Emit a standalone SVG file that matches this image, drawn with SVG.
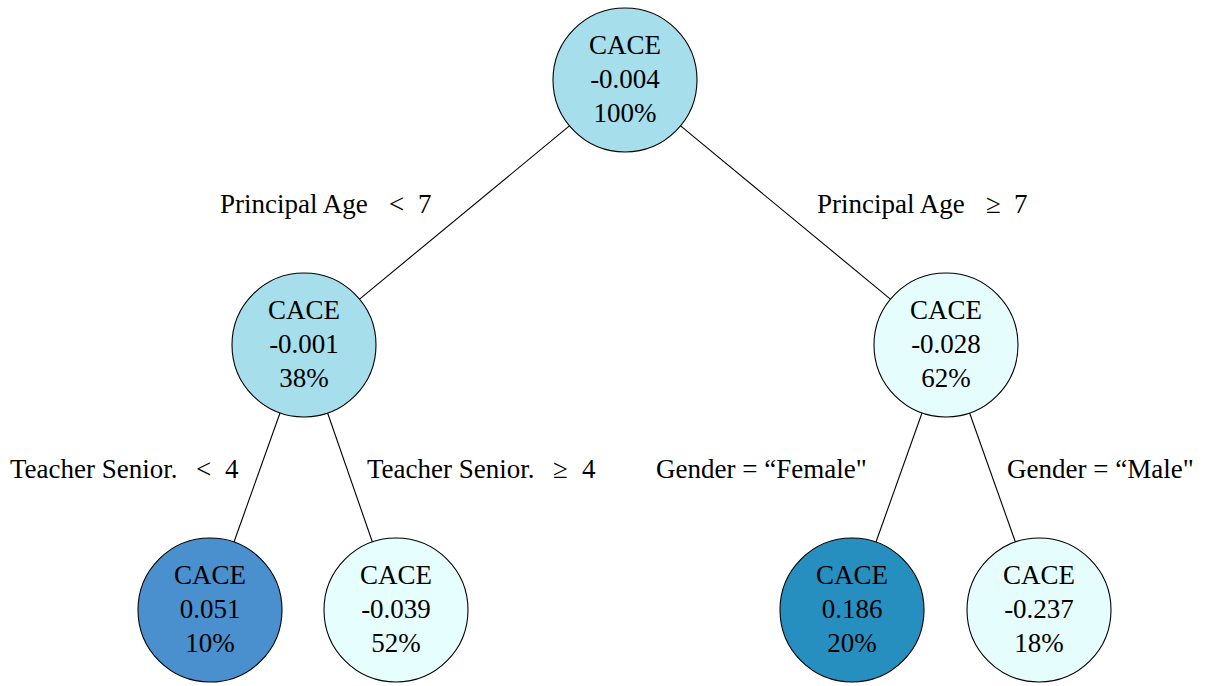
<svg xmlns="http://www.w3.org/2000/svg" width="1216" height="686" viewBox="0 0 1216 686">
<style>
text{font-family:"Liberation Serif","Times New Roman",serif;font-size:27px;fill:#000}
.n text{text-anchor:middle}
circle{stroke:#000;stroke-width:1.1}
#edges line{stroke:#000;stroke-width:1.1}
</style>
<rect width="1216" height="686" fill="#fff"/>
<g id="edges">
<line x1="569.4" y1="125.9" x2="359.6" y2="299.1"/>
<line x1="680.6" y1="125.9" x2="890.4" y2="299.1"/>
<line x1="280" y1="413" x2="234" y2="542"/>
<line x1="327.6" y1="413" x2="372.4" y2="542"/>
<line x1="922" y1="413" x2="876" y2="542"/>
<line x1="969.6" y1="413" x2="1015.4" y2="542"/>
</g>
<g id="edge-labels">
<text x="220" y="213">Principal Age<tspan x="389">&lt;</tspan><tspan x="418">7</tspan></text>
<text x="817" y="213">Principal Age<tspan x="986">≥</tspan><tspan x="1014">7</tspan></text>
<text x="10" y="478">Teacher Senior.<tspan x="196">&lt;</tspan><tspan x="225">4</tspan></text>
<text x="367" y="478">Teacher Senior.<tspan x="553">≥</tspan><tspan x="582">4</tspan></text>
<text x="656" y="478">Gender = “Female"</text>
<text x="1007" y="478">Gender = “Male"</text>
</g>
<g id="root" class="n">
<circle cx="625" cy="80" r="72" fill="#A6DEEB"/>
<text x="625" y="54">CACE</text><text x="625" y="88">-0.004</text><text x="625" y="122">100%</text>
</g>
<g id="left" class="n">
<circle cx="304" cy="345" r="72" fill="#A6DEEB"/>
<text x="304" y="319">CACE</text><text x="304" y="353">-0.001</text><text x="304" y="387">38%</text>
</g>
<g id="right" class="n">
<circle cx="946" cy="345" r="72" fill="#E6FDFD"/>
<text x="946" y="319">CACE</text><text x="946" y="353">-0.028</text><text x="946" y="387">62%</text>
</g>
<g id="left-left" class="n">
<circle cx="210" cy="610" r="72" fill="#4A90CE"/>
<text x="210" y="584">CACE</text><text x="210" y="618">0.051</text><text x="210" y="652">10%</text>
</g>
<g id="left-right" class="n">
<circle cx="396" cy="610" r="72" fill="#E6FEFE"/>
<text x="396" y="584">CACE</text><text x="396" y="618">-0.039</text><text x="396" y="652">52%</text>
</g>
<g id="right-left" class="n">
<circle cx="852" cy="610" r="72" fill="#278FBF"/>
<text x="852" y="584">CACE</text><text x="852" y="618">0.186</text><text x="852" y="652">20%</text>
</g>
<g id="right-right" class="n">
<circle cx="1039" cy="610" r="72" fill="#E6FDFD"/>
<text x="1039" y="584">CACE</text><text x="1039" y="618">-0.237</text><text x="1039" y="652">18%</text>
</g>
</svg>
